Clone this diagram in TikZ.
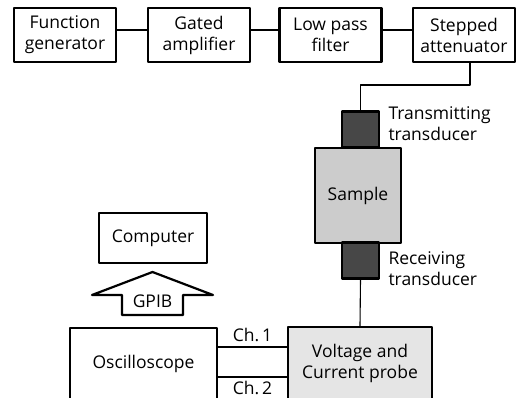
\documentclass[tikz,border=0pt]{standalone}
\usepackage{fontspec}
\setmainfont{Open Sans}
\begin{document}
\begin{tikzpicture}[x=1pt,y=-1pt,line join=round,line cap=round,font=\fontsize{17.5}{21}\selectfont]
			\tikzset{box/.style={draw,line width=2.4pt,align=center,inner sep=0pt},
				xdcr/.style={draw,line width=2.4pt,fill=black!72,minimum width=37pt,minimum height=36pt},
				link/.style={line width=1.1pt}}
			\useasboundingbox (0,0) rectangle (525,397);
			\clip (0,0) rectangle (525,397);
			% top row
			\foreach \n/\x/\t in {1/65/{Function\\generator},2/199/{Gated\\amplifier},3/330.5/{Low pass\\filter},4/464/{Stepped\\attenuator}}
			\node[box,minimum width=102pt,minimum height=54pt] (b\n) at (\x,35) {\t};
			\foreach \a/\b in {1/2,2/3,3/4}
			\draw[link] ([yshift=5pt]b\a.east)--([yshift=5pt]b\b.west);
			% sample stack
			\node[box,fill=black!20,minimum width=86pt,minimum height=95pt] (smp) at (358,195.5) {Sample};
			\node[xdcr] (tx) at (360.5,129.5) {};
			\node[xdcr] (rx) at (360.5,260.5) {};
			\node[anchor=west,align=left] (txl) at (385,124) {Transmitting\\transducer};
			\node[anchor=west,align=left] (rxl) at (385,269) {Receiving\\transducer};
			\coordinate (k1) at (470,85);
			\coordinate (k2) at (360.5,85);
			\draw[link] (b4.south-|k1)--(k1)--(k2)--(tx.north);
			% bottom
			\node[box,fill=black!10,minimum width=144pt,minimum height=72pt] (prb) at (360,363) {Voltage and\\Current probe};
			\node[box,minimum width=147pt,minimum height=72pt] (osc) at (143.5,364) {Oscilloscope};
			\draw[link] (rx.south)--(prb.north);
			\draw[link] (osc.east|-0,347)--(prb.west|-0,347) node[midway,above=1pt] (ch1) {Ch.\,1};
			\draw[link] (osc.east|-0,377)--(prb.west|-0,377) node[midway,below=0pt] (ch2) {Ch.\,2};
			\node[box,minimum width=108pt,minimum height=50pt] (pc) at (153,238) {Computer};
			\node (gpib) at (152.5,301) {GPIB};
			\draw[line width=2.2pt] (92,295)--(152.5,272)--(213,295)--(183,295)--(183,315)--(122,315)--(122,295)--cycle;
		\end{tikzpicture}
\end{document}
